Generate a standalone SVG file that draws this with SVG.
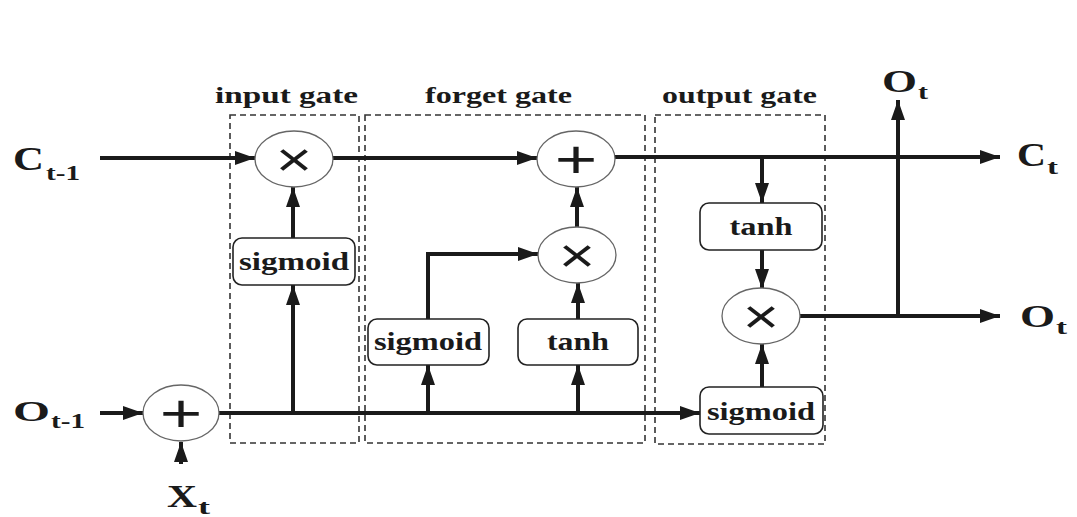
<svg xmlns="http://www.w3.org/2000/svg" width="1077" height="517" viewBox="0 0 1077 517">
<style>
.t{font-family:"Liberation Serif","Times New Roman",serif;font-weight:bold;fill:#1a1a1a}
.gl{font-size:24px}
.bl{font-size:25px;text-anchor:middle}
.op{font-family:"Liberation Sans",Arial,sans-serif;fill:#1a1a1a;text-anchor:middle}
.gate{fill:none;stroke:#333;stroke-width:1.6;stroke-dasharray:6 4}
.box{fill:#fff;stroke:#222;stroke-width:1.6}
.ell{fill:#fff;stroke:#666;stroke-width:1.3}
.ln{fill:none;stroke:#1a1a1a;stroke-width:4}
.ar{marker-end:url(#ah)}
</style>
<defs>
<marker id="ah" markerUnits="userSpaceOnUse" markerWidth="20" markerHeight="14" refX="20" refY="7" orient="auto">
<path d="M0,0 L20,7 L0,14 z" fill="#1a1a1a"/>
</marker>
</defs>
<rect width="1077" height="517" fill="#fff"/>

<g id="gates">
<rect class="gate" x="230" y="115" width="129" height="328"/>
<rect class="gate" x="365" y="115" width="280" height="328"/>
<rect class="gate" x="655" y="115" width="170" height="329"/>
<text class="t gl" x="215" y="103" textLength="143" lengthAdjust="spacingAndGlyphs">input gate</text>
<text class="t gl" x="425" y="103" textLength="147" lengthAdjust="spacingAndGlyphs">forget gate</text>
<text class="t gl" x="662" y="103" textLength="155" lengthAdjust="spacingAndGlyphs">output gate</text>
</g>

<g id="connectors">
<line class="ln ar" x1="100" y1="158" x2="255" y2="158"/>
<line class="ln ar" x1="333" y1="158" x2="537" y2="158"/>
<line class="ln ar" x1="615" y1="157" x2="1000" y2="157"/>
<line class="ln ar" x1="762" y1="157" x2="762" y2="203"/>
<line class="ln ar" x1="762" y1="250" x2="762" y2="289"/>
<line class="ln ar" x1="762" y1="387" x2="762" y2="344"/>
<line class="ln ar" x1="800" y1="316" x2="1000" y2="316"/>
<line class="ln ar" x1="898" y1="318" x2="898" y2="100"/>
<line class="ln ar" x1="100" y1="413" x2="143" y2="413"/>
<line class="ln ar" x1="181" y1="464" x2="181" y2="442"/>
<line class="ln ar" x1="219" y1="413" x2="700" y2="413"/>
<line class="ln ar" x1="293" y1="415" x2="293" y2="285"/>
<line class="ln ar" x1="293" y1="238" x2="293" y2="187"/>
<line class="ln ar" x1="428" y1="415" x2="428" y2="365"/>
<polyline class="ln ar" points="428,319 428,254 538,254"/>
<line class="ln ar" x1="578" y1="415" x2="578" y2="365"/>
<line class="ln ar" x1="578" y1="319" x2="578" y2="283"/>
<line class="ln ar" x1="577" y1="227" x2="577" y2="187"/>
</g>

<g id="mul-input">
<ellipse class="ell" cx="294" cy="159" rx="39" ry="28"/>
<text class="op" transform="translate(294 159) scale(1.3 1)" x="0" y="17" font-size="48">×</text>
</g>
<g id="add-cell">
<ellipse class="ell" cx="576" cy="159" rx="39" ry="28"/>
<text class="op" transform="translate(576 159) scale(1.35 1)" x="0" y="19" font-size="54">+</text>
</g>
<g id="mul-forget">
<ellipse class="ell" cx="577" cy="255" rx="39" ry="28"/>
<text class="op" transform="translate(577 255) scale(1.3 1)" x="0" y="17" font-size="48">×</text>
</g>
<g id="mul-output">
<ellipse class="ell" cx="761" cy="316" rx="39" ry="28"/>
<text class="op" transform="translate(761 316) scale(1.3 1)" x="0" y="17" font-size="48">×</text>
</g>
<g id="add-input">
<ellipse class="ell" cx="181" cy="413" rx="38" ry="28"/>
<text class="op" transform="translate(181 413) scale(1.35 1)" x="0" y="19" font-size="54">+</text>
</g>

<g id="sigmoid-input">
<rect class="box" x="233" y="238" width="122" height="47" rx="9"/>
<text class="t bl" x="294" y="270" textLength="110" lengthAdjust="spacingAndGlyphs">sigmoid</text>
</g>
<g id="sigmoid-forget">
<rect class="box" x="368" y="319" width="121" height="46" rx="9"/>
<text class="t bl" x="428" y="350" textLength="108" lengthAdjust="spacingAndGlyphs">sigmoid</text>
</g>
<g id="tanh-forget">
<rect class="box" x="518" y="319" width="120" height="46" rx="9"/>
<text class="t bl" x="578" y="350" textLength="62" lengthAdjust="spacingAndGlyphs">tanh</text>
</g>
<g id="tanh-output">
<rect class="box" x="700" y="203" width="122" height="47" rx="9"/>
<text class="t bl" x="761" y="235" textLength="63" lengthAdjust="spacingAndGlyphs">tanh</text>
</g>
<g id="sigmoid-output">
<rect class="box" x="700" y="387" width="123" height="47" rx="9"/>
<text class="t bl" x="761" y="420" textLength="108" lengthAdjust="spacingAndGlyphs">sigmoid</text>
</g>

<g id="label-Ct-1">
<text class="t" x="13" y="170" font-size="33" textLength="31" lengthAdjust="spacingAndGlyphs">C</text>
<text class="t" x="46" y="180" font-size="22" textLength="34" lengthAdjust="spacingAndGlyphs">t-1</text>
</g>
<g id="label-Ct">
<text class="t" x="1017" y="166" font-size="33" textLength="29" lengthAdjust="spacingAndGlyphs">C</text>
<text class="t" x="1047" y="174" font-size="22" textLength="11" lengthAdjust="spacingAndGlyphs">t</text>
</g>
<g id="label-Ot-top">
<text class="t" x="882" y="92" font-size="31" textLength="35" lengthAdjust="spacingAndGlyphs">O</text>
<text class="t" x="918" y="99" font-size="22" textLength="10" lengthAdjust="spacingAndGlyphs">t</text>
</g>
<g id="label-Ot">
<text class="t" x="1020" y="327" font-size="31" textLength="35" lengthAdjust="spacingAndGlyphs">O</text>
<text class="t" x="1056" y="334" font-size="22" textLength="11" lengthAdjust="spacingAndGlyphs">t</text>
</g>
<g id="label-Ot-1">
<text class="t" x="13" y="421" font-size="29" textLength="37" lengthAdjust="spacingAndGlyphs">O</text>
<text class="t" x="51" y="428" font-size="21" textLength="34" lengthAdjust="spacingAndGlyphs">t-1</text>
</g>
<g id="label-Xt">
<text class="t" x="167" y="507" font-size="32" textLength="30" lengthAdjust="spacingAndGlyphs">X</text>
<text class="t" x="198" y="514" font-size="22" textLength="12" lengthAdjust="spacingAndGlyphs">t</text>
</g>
</svg>
